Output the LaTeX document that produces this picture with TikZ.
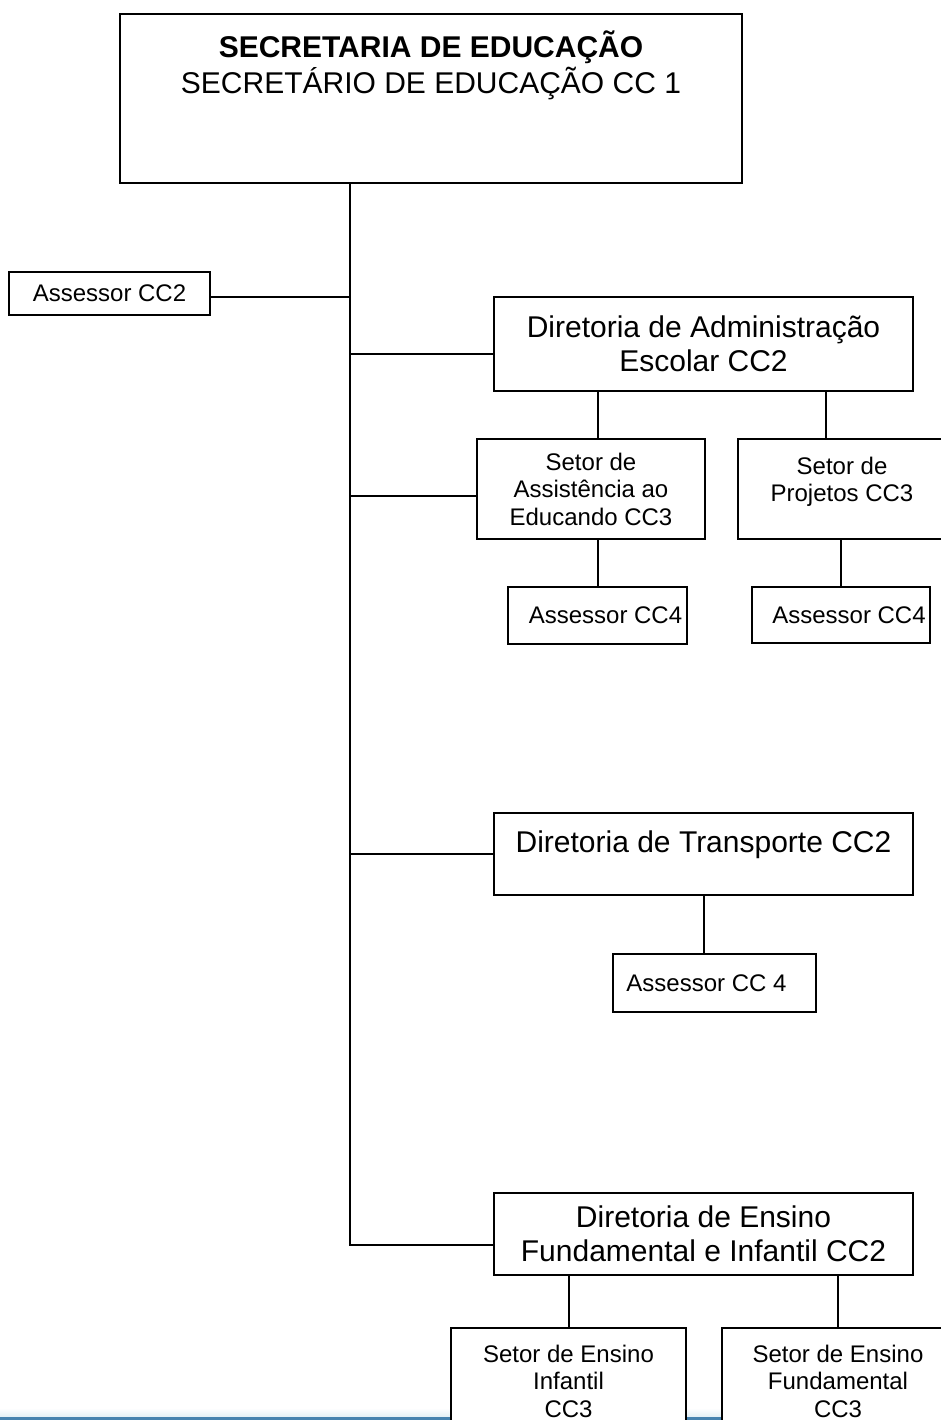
\documentclass[tikz,border=0pt]{standalone}
\usepackage{fontspec}
\setmainfont{Liberation Sans}
\definecolor{barblue}{RGB}{70,130,175}
\definecolor{barpale}{RGB}{225,238,245}

\begin{document}
\begin{tikzpicture}[
    x=1pt, y=-1pt, line width=2pt,
    bigbox/.style={rectangle, draw, fill=white, inner sep=0pt, align=center,
        font=\fontsize{30}{34.5}\selectfont},
    smallbox/.style={rectangle, draw, fill=white, inner sep=0pt, align=center,
        font=\fontsize{24}{27.5}\selectfont}
]
\useasboundingbox (0,0) rectangle (941,1420);
\clip (0,0) rectangle (941,1420);

% page rule at the bottom
\shade [top color=white, bottom color=barpale] (0,1408) rectangle (941,1417);
\fill [barblue] (0,1417) rectangle (941,1420);

\node (Secretaria) [bigbox, minimum width=622pt, minimum height=169pt] at (431,98.5)
  {\textbf{SECRETARIA DE EDUCAÇÃO}\\[1pt]SECRETÁRIO DE EDUCAÇÃO CC 1\\[38pt]\mbox{}};

\node (Assessor01) [smallbox, minimum width=201pt, minimum height=43pt] at (109.5,293.5)
  {Assessor CC2};

\node (Diretoria01) [bigbox, minimum width=419pt, minimum height=94pt] at (703.5,344)
  {Diretoria de Administração\\[-1pt]Escolar CC2};
\node (Setor01) [smallbox, minimum width=228pt, minimum height=100pt] at (591,489)
  {Setor de\\Assistência ao\\Educando CC3};
\node (Setor02) [smallbox, minimum width=208pt, minimum height=100pt] at (842,489)
  {Setor de\\Projetos CC3\\[-8pt]\mbox{}};
\node (Assessor02) [smallbox, minimum width=179pt, minimum height=57pt] at (597.5,615.5)
  {\hspace*{16pt}Assessor CC4};
\node (Assessor03) [smallbox, minimum width=178pt, minimum height=56pt] at (841,615)
  {\hspace*{16pt}Assessor CC4};

\node (Diretoria02) [bigbox, minimum width=419pt, minimum height=82pt] at (703.5,854)
  {Diretoria de Transporte CC2\\[-10pt]\mbox{}};
\node (Assessor04) [smallbox, minimum width=203pt, minimum height=58pt] at (714.5,983)
  {Assessor CC 4\hspace*{16pt}};

\node (Diretoria03) [bigbox, minimum width=419pt, minimum height=82pt] at (703.5,1234)
  {Diretoria de Ensino\\Fundamental e Infantil CC2};
\node (Setor03) [smallbox, minimum width=235pt, minimum height=106pt] at (568.5,1381)
  {Setor de Ensino\\Infantil\\CC3};
\node (Setor04) [smallbox, minimum width=232pt, minimum height=106pt] at (838,1381)
  {Setor de Ensino\\Fundamental\\CC3};

\coordinate (TrunkEnd) at (350,1245);

\draw (Secretaria.south -| TrunkEnd) -- (TrunkEnd) -- (TrunkEnd -| Diretoria03.west);
\draw ([yshift=-4pt]Assessor01.east) -- ([yshift=-4pt]Assessor01.east -| TrunkEnd);
\draw ([yshift=-10pt]Diretoria01.west) -- ([yshift=-10pt]Diretoria01.west -| TrunkEnd);
\draw ([yshift=-7pt]Setor01.west) -- ([yshift=-7pt]Setor01.west -| TrunkEnd);
\draw (Diretoria02.west) -- (Diretoria02.west -| TrunkEnd);

\draw (Assessor02 |- Diretoria01.south) -- (Assessor02 |- Setor01.north);
\draw (Assessor02 |- Setor01.south) -- (Assessor02.north);
\draw ([xshift=-16pt]Setor02.north) -- ([xshift=-16pt]Setor02.north |- Diretoria01.south);
\draw (Assessor03.north) -- (Assessor03.north |- Setor02.south);

\draw (Diretoria02.south) -- (Diretoria02.south |- Assessor04.north);

\draw (Setor03.north) -- (Setor03.north |- Diretoria03.south);
\draw (Setor04.north) -- (Setor04.north |- Diretoria03.south);

\end{tikzpicture}
\end{document}
